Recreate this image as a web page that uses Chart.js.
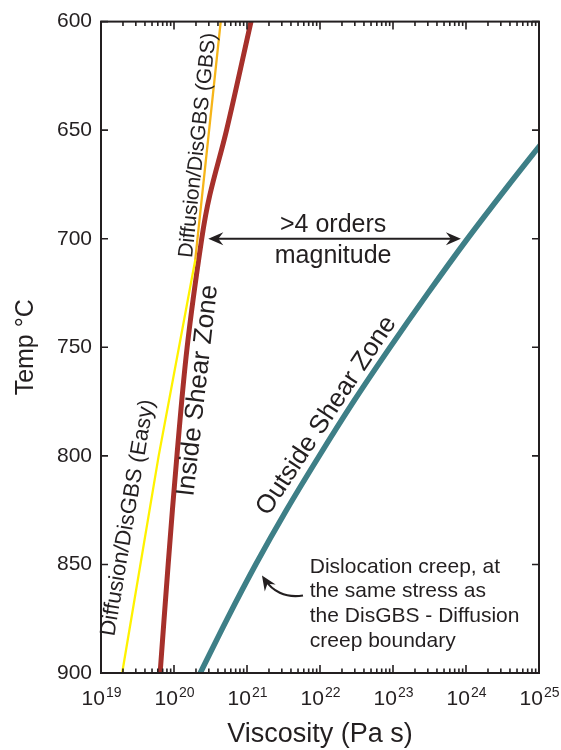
<!DOCTYPE html>
<html>
<head>
<meta charset="utf-8">
<script src="https://cdn.jsdelivr.net/npm/chart.js@4.4.1/dist/chart.umd.min.js"></script>
<style>
  html, body { margin: 0; padding: 0; background: #fff; }
  canvas { display: block; }
</style>
</head>
<body>
<canvas id="myChart" width="561" height="750"></canvas>
<script>
// temperature (deg C) against log10 viscosity (Pa s)
const gbsTemp = [600, 710];
const gbsVisc = [20.64, 20.29];
const easyTemp = [710, 800, 900];
const easyVisc = [20.29, 19.79, 19.29];
const insideTemp = [600, 650, 680, 700, 750, 800, 850, 900];
const insideVisc = [21.055, 20.72, 20.49, 20.38, 20.18, 20.04, 19.92, 19.81];
const outsideTemp = [655, 675, 700, 725, 750, 775, 800, 825, 850, 875, 900];
const outsideVisc = [25.06, 24.59, 24.02, 23.48, 22.96, 22.46, 21.99, 21.54, 21.12, 20.73, 20.36];

const xExponents = [19, 20, 21, 22, 23, 24, 25];
const tempTicks = [600, 650, 700, 750, 800, 850, 900];

const ink = '#231f20';
const sans = "'Liberation Sans', Arial, Helvetica, sans-serif";

function toPoints(temps, viscs) {
  return temps.map((t, i) => ({ x: Math.pow(10, viscs[i]), y: t }));
}

// annotations, placed in data units (log10 viscosity, temperature)
const rotLabels = [
  { text: 'Diffusion/DisGBS (GBS)', v: 20.33, t: 657, angle: -84, size: 21 },
  { text: 'Diffusion/DisGBS (Easy)', v: 19.37, t: 828.5, angle: -80.5, size: 22 },
  { text: 'Inside Shear Zone', v: 20.33, t: 770, angle: -83.5, size: 26 },
  { text: 'Outside Shear Zone', v: 22.09, t: 781.5, angle: -56.5, size: 26 }
];
const rangeArrow = { t: 700, from: 20.47, to: 23.93 };
const rangeText = [
  { text: '>4 orders', v: 22.18, t: 696.9 },
  { text: 'magnitude', v: 22.18, t: 711.1 }
];
const creepText = ['Dislocation creep, at', 'the same stress as', 'the DisGBS - Diffusion', 'creep boundary'];
const creepTextPos = { v: 21.86, t: [853.8, 865.2, 876.6, 888.1] };
const creepArrow = [[21.767, 864.3], [21.52, 865.7], [21.34, 862.0], [21.205, 855.1]];

function arrowHead(ctx, x, y, ang) {
  ctx.save();
  ctx.translate(x, y);
  ctx.rotate(ang);
  ctx.beginPath();
  ctx.moveTo(0, 0);
  ctx.lineTo(-15, -6.5);
  ctx.lineTo(-10, 0);
  ctx.lineTo(-15, 6.5);
  ctx.closePath();
  ctx.fill();
  ctx.restore();
}

const decor = {
  id: 'decor',
  afterDatasetsDraw(chart) {
    const { ctx, chartArea: a } = chart;
    const sx = chart.scales.x, sy = chart.scales.y;
    const X = v => sx.getPixelForValue(Math.pow(10, v));
    const Y = t => sy.getPixelForValue(t);

    ctx.save();
    ctx.strokeStyle = ink;
    ctx.fillStyle = ink;

    // frame
    ctx.lineWidth = 2;
    ctx.strokeRect(a.left, a.top, a.right - a.left, a.bottom - a.top);

    // x ticks, inward, top and bottom
    ctx.lineWidth = 1.6;
    ctx.beginPath();
    xExponents.forEach((e, i) => {
      const steps = i < xExponents.length - 1 ? [1, 2, 3, 4, 5, 6, 7, 8, 9] : [1];
      steps.forEach(m => {
        const p = sx.getPixelForValue(m * Math.pow(10, e));
        const len = m === 1 ? 8 : 4.5;
        ctx.moveTo(p, a.bottom); ctx.lineTo(p, a.bottom - len);
        ctx.moveTo(p, a.top); ctx.lineTo(p, a.top + len);
      });
    });
    // y ticks, inward, left and right
    tempTicks.forEach(t => {
      const p = Y(t);
      ctx.moveTo(a.left, p); ctx.lineTo(a.left + 7, p);
      ctx.moveTo(a.right, p); ctx.lineTo(a.right - 7, p);
    });
    ctx.stroke();

    // x tick labels 10^n
    ctx.textBaseline = 'alphabetic';
    ctx.textAlign = 'left';
    xExponents.forEach(e => {
      const p = X(e);
      ctx.font = '21px ' + sans;
      const wb = ctx.measureText('10').width;
      ctx.font = '14px ' + sans;
      const ws = ctx.measureText(String(e)).width;
      const x0 = p - (wb + ws) / 2;
      ctx.font = '21px ' + sans;
      ctx.fillText('10', x0, a.bottom + 32);
      ctx.font = '14px ' + sans;
      ctx.fillText(String(e), x0 + wb + 1, a.bottom + 24);
    });

    // axis titles
    ctx.font = '27px ' + sans;
    ctx.textAlign = 'center';
    ctx.fillText('Viscosity (Pa s)', (a.left + a.right) / 2, a.bottom + 69);
    ctx.save();
    ctx.translate(33, (a.top + a.bottom) / 2);
    ctx.rotate(-Math.PI / 2);
    ctx.font = '25px ' + sans;
    ctx.fillText('Temp °C', 0, 0);
    ctx.restore();

    // rotated curve labels
    ctx.textBaseline = 'middle';
    rotLabels.forEach(l => {
      ctx.save();
      ctx.translate(X(l.v), Y(l.t));
      ctx.rotate(l.angle * Math.PI / 180);
      ctx.font = l.size + 'px ' + sans;
      ctx.fillText(l.text, 0, 0);
      ctx.restore();
    });

    // double arrow
    const ay = Y(rangeArrow.t), ax0 = X(rangeArrow.from), ax1 = X(rangeArrow.to);
    ctx.lineWidth = 2;
    ctx.beginPath();
    ctx.moveTo(ax0 + 8, ay); ctx.lineTo(ax1 - 8, ay);
    ctx.stroke();
    arrowHead(ctx, ax0, ay, Math.PI);
    arrowHead(ctx, ax1, ay, 0);

    ctx.textBaseline = 'alphabetic';
    ctx.font = '25px ' + sans;
    rangeText.forEach(r => ctx.fillText(r.text, X(r.v), Y(r.t)));

    // dislocation creep note
    ctx.textAlign = 'left';
    ctx.font = '21px ' + sans;
    creepText.forEach((s, i) => ctx.fillText(s, X(creepTextPos.v), Y(creepTextPos.t[i])));

    const c = creepArrow.map(p => [X(p[0]), Y(p[1])]);
    ctx.lineWidth = 2.2;
    ctx.beginPath();
    ctx.moveTo(c[0][0], c[0][1]);
    ctx.bezierCurveTo(c[1][0], c[1][1], c[2][0], c[2][1], c[3][0] + 3, c[3][1] + 4);
    ctx.stroke();
    arrowHead(ctx, c[3][0], c[3][1], Math.atan2(c[3][1] - c[2][1], c[3][0] - c[2][0]));

    ctx.restore();
  }
};

Chart.defaults.font.family = sans;

const data = {
  datasets: [{
    label: 'Diffusion/DisGBS (Easy)',
    data: toPoints(easyTemp, easyVisc),
    borderColor: '#fff200',
    borderWidth: 2.3
  }, {
    label: 'Diffusion/DisGBS (GBS)',
    data: toPoints(gbsTemp, gbsVisc),
    borderColor: '#f6b519',
    borderWidth: 2.3
  }, {
    label: 'Inside Shear Zone',
    data: toPoints(insideTemp, insideVisc),
    borderColor: '#a6302b',
    borderWidth: 5,
    tension: 0.35
  }, {
    label: 'Outside Shear Zone',
    data: toPoints(outsideTemp, outsideVisc),
    borderColor: '#3e7f87',
    borderWidth: 5.5,
    cubicInterpolationMode: 'monotone'
  }]
};

const config = {
  type: 'line',
  data: data,
  plugins: [decor],
  options: {
    responsive: false,
    animation: false,
    clip: 0,
    layout: {
      padding: { left: 0, right: 22, top: 17, bottom: 0 }
    },
    elements: {
      point: { radius: 0 },
      line: { borderCapStyle: 'round', borderJoinStyle: 'round' }
    },
    scales: {
      x: {
        type: 'logarithmic',
        min: Math.pow(10, xExponents[0]),
        max: Math.pow(10, xExponents[xExponents.length - 1]),
        grid: { display: false, drawTicks: false },
        border: { display: false },
        ticks: { display: false },
        afterFit: s => { s.height = 77; }
      },
      y: {
        type: 'linear',
        reverse: true,
        min: tempTicks[0],
        max: tempTicks[tempTicks.length - 1],
        grid: { display: false, drawTicks: false },
        border: { display: false },
        ticks: {
          stepSize: 50,
          padding: 9,
          color: ink,
          font: { size: 21 }
        },
        afterFit: s => { s.width = 101; }
      }
    },
    plugins: {
      legend: { display: false },
      tooltip: { enabled: false }
    }
  }
};

var myChart = new Chart(document.getElementById('myChart'), config);
</script>
</body>
</html>
